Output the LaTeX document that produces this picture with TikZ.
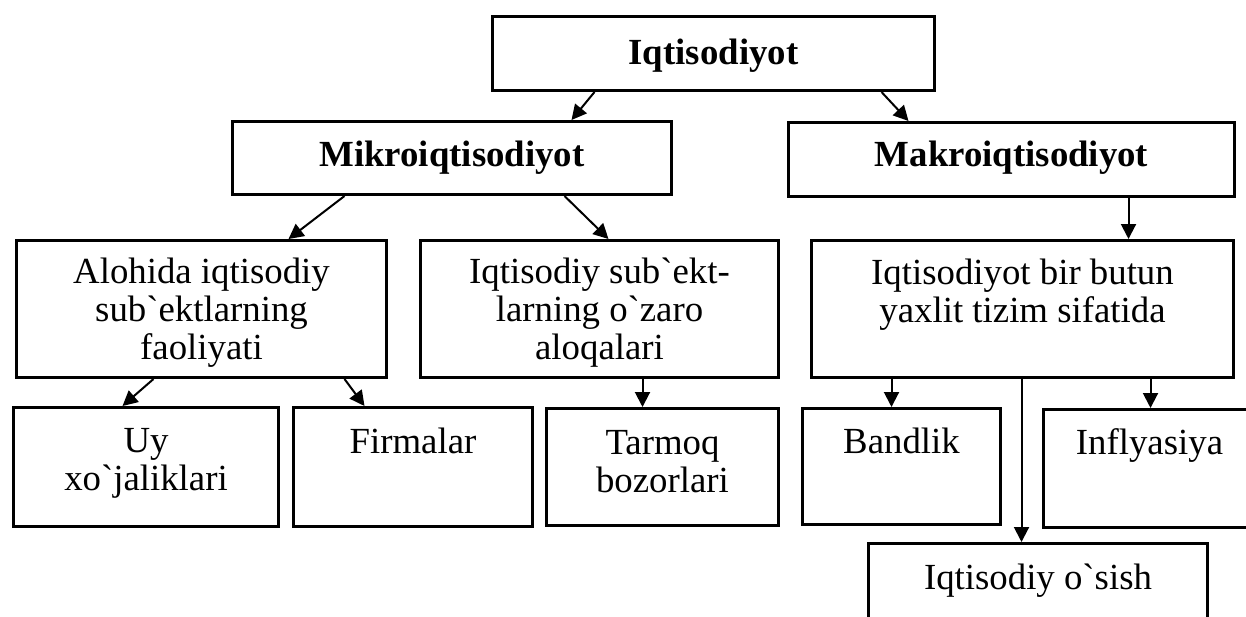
\documentclass[tikz,border=0pt]{standalone}
\usepackage{fontspec}
\setmainfont{Liberation Serif}
\usetikzlibrary{arrows.meta}
\newlength\pxu
\setlength\pxu{0.5pt}
\newcommand\bx[4][18]{\parbox[c][#3\pxu][t]{#2\pxu}{\centering\vspace*{#1\pxu}\strut #4}}

\begin{document}
\begin{tikzpicture}[x=0.5pt,y=-0.5pt,
box/.style={draw, line width=1.5pt, inner sep=0pt, anchor=north west, font=\fontsize{18.4}{19}\selectfont},
arr/.style={line width=1pt, -{Triangle[length=7.5pt,width=7.5pt]}}
]
\useasboundingbox (0,0) rectangle (1246,616);

\node[box] (iqt) at (491,15) {\bx[21]{442}{74}{\textbf{Iqtisodiyot}}};
\node[box] (mikro) at (231,120) {\bx{439}{73}{\textbf{Mikroiqtisodiyot}}};
\node[box] (makro) at (787,121) {\bx[17]{446}{74}{\textbf{Makroiqtisodiyot}}};

\node[box] (alohida) at (15,239) {\bx[16]{370}{137}{Alohida iqtisodiy\\ sub\textasciigrave ektlarning\\ faoliyati}};
\node[box] (aloqa) at (419,239) {\bx[16]{358}{137}{Iqtisodiy sub\textasciigrave ekt-\\ larning o\textasciigrave zaro\\ aloqalari}};
\node[box] (tizim) at (810,239) {\bx[17]{422}{137}{Iqtisodiyot bir butun\\ yaxlit tizim sifatida}};

\node[box] (uy) at (12,406) {\bx{265}{119}{Uy\\ xo\textasciigrave jaliklari}};
\node[box] (firma) at (292,406) {\bx[19]{239}{119}{Firmalar}};
\node[box] (tarmoq) at (545,407) {\bx[19]{232}{117}{Tarmoq\\ bozorlari}};
\node[box] (bandlik) at (801,407) {\bx{198}{116}{Bandlik}};
\node[box] (inflyasiya) at (1042,408) {\bx{212}{118}{Inflyasiya}};
\node[box] (osish) at (867,542) {\bx[19]{339}{84}{Iqtisodiy o\textasciigrave sish}};

\draw[arr] ([xshift=-59.5pt]iqt.south) -- ([xshift=59.75pt]mikro.north);
\draw[arr] ([xshift=84pt]iqt.south) -- ([xshift=-51.5pt]makro.north);

\draw[arr] ([xshift=-53.75pt]mikro.south) -- ([xshift=43.5pt]alohida.north);
\draw[arr] ([xshift=56.25pt]mikro.south) -- ([xshift=4.5pt]aloqa.north);
\draw[arr] ([xshift=58.5pt]makro.south) coordinate (m1) -- (m1 |- tizim.north);

\draw[arr] ([xshift=-24pt]alohida.south) -- ([xshift=-11.75pt]uy.north);
\draw[arr] ([xshift=71.5pt]alohida.south) -- ([xshift=-24.25pt]firma.north);
\draw[arr] ([xshift=21.5pt]aloqa.south) coordinate (a1) -- (a1 |- tarmoq.north);

\draw[arr] ([xshift=-65.5pt]tizim.south) coordinate (t1) -- (t1 |- bandlik.north);
\draw[arr] ([xshift=64pt]tizim.south) coordinate (t2) -- (t2 |- inflyasiya.north);
\draw[arr] ([xshift=-0.5pt]tizim.south) coordinate (t3) -- (t3 |- osish.north);

\end{tikzpicture}
\end{document}
